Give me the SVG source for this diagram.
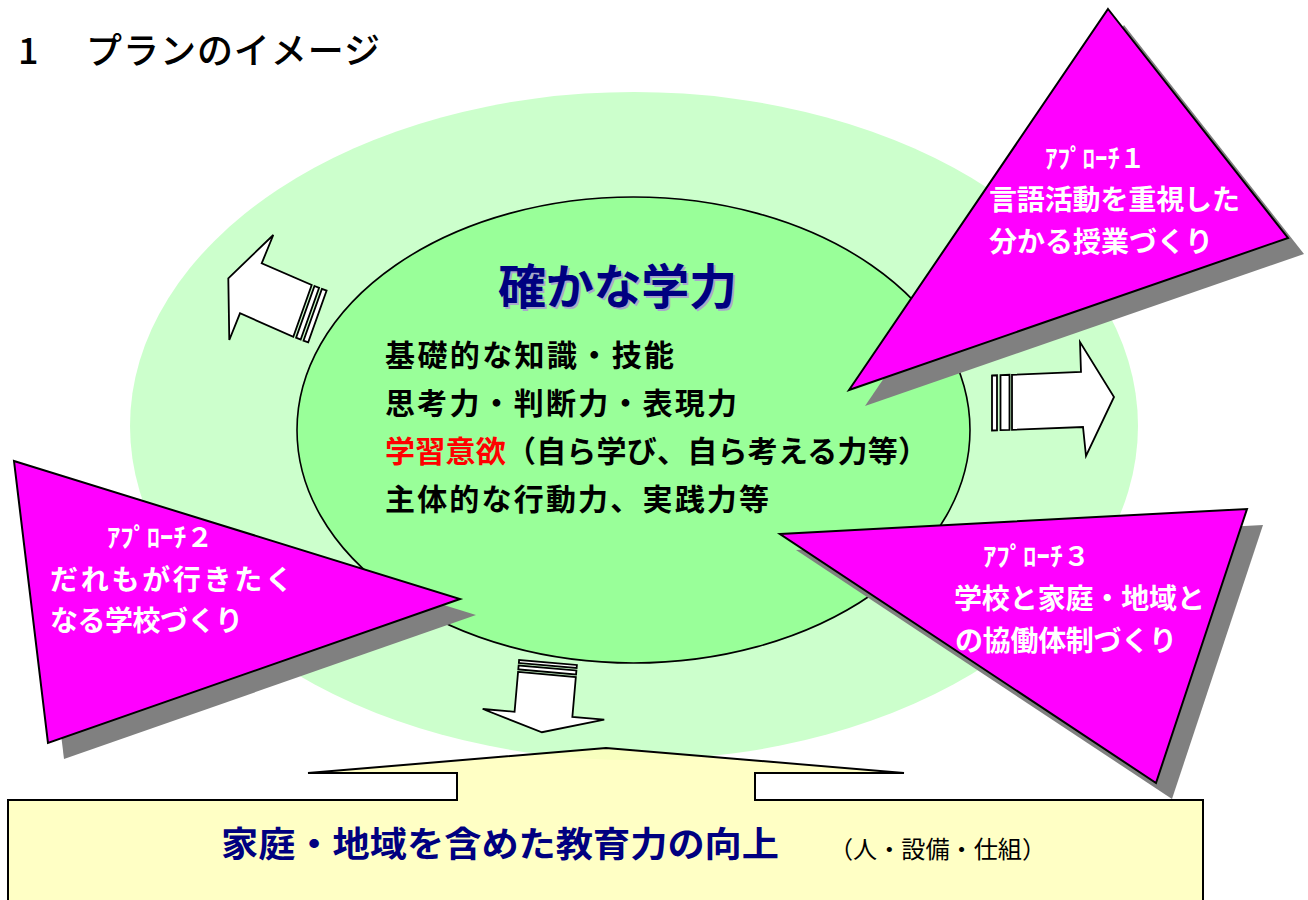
<svg xmlns="http://www.w3.org/2000/svg" width="1308" height="900" viewBox="0 0 1308 900">
<style>
.jp{font-family:"Noto Sans CJK JP","Noto Sans",sans-serif}
.ctr{font-size:30px;font-weight:bold;fill:#000}
.tri{fill:#FF00FF;stroke:#000;stroke-width:2;stroke-linejoin:miter}
.shadow{fill:#808080}
.wt{fill:#fff;font-weight:bold;font-size:28px}
.lab{fill:#fff;font-weight:bold;font-size:26px}
.arr{fill:#fff;stroke:#000;stroke-width:1.8;stroke-linejoin:miter}
</style>
<rect width="1308" height="900" fill="#fff"/>
<text class="jp" x="18" y="64" font-size="36" font-weight="500" fill="#000">1</text>
<text class="jp" x="86" y="64" font-size="36" font-weight="500" fill="#000" textLength="294" lengthAdjust="spacing">プランのイメージ</text>

<g id="background">
<ellipse cx="634" cy="426" rx="504" ry="334" fill="#CCFFCC"/>
</g>

<g id="center">
<ellipse cx="633.5" cy="430" rx="336.5" ry="233" fill="#99FF99" stroke="#000" stroke-width="1.6"/>
<text class="jp" x="500" y="306" font-size="48" font-weight="bold" fill="#A8A8CC" textLength="239" lengthAdjust="spacing">確かな学力</text>
<text class="jp" x="498" y="304" font-size="48" font-weight="bold" fill="#000080" textLength="239" lengthAdjust="spacing">確かな学力</text>
<text class="jp ctr" x="385" y="366" textLength="289" lengthAdjust="spacing">基礎的な知識・技能</text>
<text class="jp ctr" x="385" y="414" textLength="352" lengthAdjust="spacing">思考力・判断力・表現力</text>
<text class="jp ctr" x="385" y="462" textLength="543" lengthAdjust="spacing"><tspan fill="#FF0000">学習意欲</tspan>（自ら学び、自ら考える力等）</text>
<text class="jp ctr" x="385" y="510" textLength="384" lengthAdjust="spacing">主体的な行動力、実践力等</text>
</g>

<g id="connectors">
<g id="arrow-left">
<polygon class="arr" points="228.3,278.3 273.3,235 261.7,263.3 311.7,285 293.3,336.7 240,313.3 229.3,340"/>
<polygon class="arr" points="314.5,286 319.1,287.8 300.7,339.5 296.1,337.7"/>
<polygon class="arr" points="321.9,288.9 326.6,290.6 308.2,342.3 303.5,340.6"/>
</g>
<g id="arrow-right">
<polygon class="arr" points="992,375.5 997,375.3 997,430.3 992,430.5"/>
<polygon class="arr" points="1000.5,375.1 1009.5,374.8 1009.5,429.9 1000.5,430.1"/>
<polygon class="arr" points="1012,374.8 1081,372 1080,342 1114,397 1086,456 1083,427 1012,429.8"/>
</g>
<g id="arrow-down" transform="translate(548,662.5) rotate(5)">
<rect class="arr" x="-29" y="0" width="58" height="3"/>
<rect class="arr" x="-29" y="5.5" width="58" height="4"/>
<polygon class="arr" points="-29,12 29,12 29,52 61,52 0,70 -61,52 -29,52"/>
</g>
</g>

<g id="approach1">
<polygon class="shadow" points="1124,25 1304,254 865,406"/>
<polygon class="tri" points="1108,9 1288,238 849,390"/>
<text class="jp lab" x="1045" y="168" textLength="100" lengthAdjust="spacingAndGlyphs">ｱﾌﾟﾛｰﾁ１</text>
<text class="jp wt" x="989" y="210" textLength="251" lengthAdjust="spacing">言語活動を重視した</text>
<text class="jp wt" x="989" y="252">分かる授業づくり</text>
</g>

<g id="approach2">
<polygon class="shadow" points="30,477 476,615 64,759"/>
<polygon class="tri" points="14,461 460,599 48,743"/>
<text class="jp lab" x="107" y="547" textLength="106" lengthAdjust="spacingAndGlyphs">ｱﾌﾟﾛｰﾁ２</text>
<text class="jp wt" x="50" y="590" textLength="243" lengthAdjust="spacing">だれもが行きたく</text>
<text class="jp wt" x="50" y="631" textLength="193" lengthAdjust="spacing">なる学校づくり</text>
</g>

<g id="approach3">
<polygon class="shadow" points="796,550 1263,525 1172,799"/>
<polygon class="tri" points="780,534 1247,509 1156,783"/>
<text class="jp lab" x="983" y="566" textLength="107" lengthAdjust="spacingAndGlyphs">ｱﾌﾟﾛｰﾁ３</text>
<text class="jp wt" x="954" y="609" textLength="251" lengthAdjust="spacing">学校と家庭・地域と</text>
<text class="jp wt" x="955" y="651" textLength="222" lengthAdjust="spacing">の協働体制づくり</text>
</g>

<g id="community">
<path d="M8,800 L457,800 L457,773 L308,773 L606,748 L904,773 L755,773 L755,800 L1203,800 L1203,910 L8,910 Z" fill="#FFFFBB" fill-opacity="0.85" stroke="#000" stroke-width="2"/>
<text class="jp" x="221" y="857" font-size="35" font-weight="bold" fill="#000080" textLength="558" lengthAdjust="spacingAndGlyphs">家庭・地域を含めた教育力の向上</text>
<text class="jp" x="829" y="858" font-size="24" fill="#000" textLength="217" lengthAdjust="spacingAndGlyphs">（人・設備・仕組）</text>
</g>
</svg>
